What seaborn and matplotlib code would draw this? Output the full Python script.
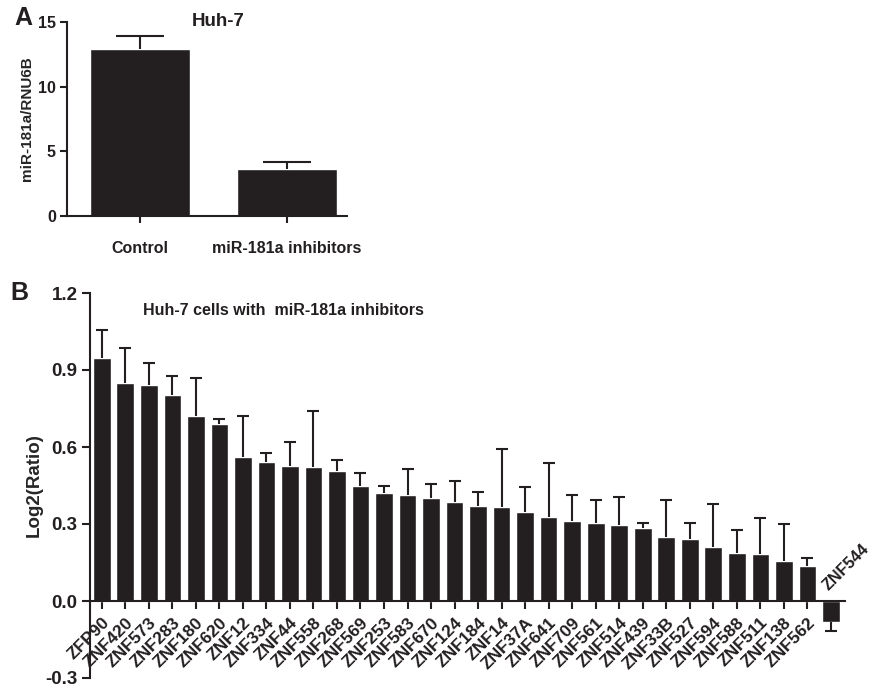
import numpy as np
import pandas as pd
import seaborn as sns
import matplotlib.pyplot as plt

# Panel A data
groups = ["Control", "miR-181a inhibitors"]
means_a = [12.9, 3.6]
errs_a = [1.05, 0.6]

# Panel B data
genes = ["ZFP90", "ZNF420", "ZNF573", "ZNF283", "ZNF180", "ZNF620", "ZNF12", "ZNF334",
         "ZNF44", "ZNF558", "ZNF268", "ZNF569", "ZNF253", "ZNF583", "ZNF670", "ZNF124",
         "ZNF184", "ZNF14", "ZNF37A", "ZNF641", "ZNF709", "ZNF561", "ZNF514", "ZNF439",
         "ZNF33B", "ZNF527", "ZNF594", "ZNF588", "ZNF511", "ZNF138", "ZNF562", "ZNF544"]
log2_ratio = [0.946, 0.850, 0.841, 0.803, 0.719, 0.688, 0.560, 0.541,
              0.525, 0.523, 0.505, 0.448, 0.421, 0.412, 0.403, 0.387,
              0.372, 0.368, 0.346, 0.328, 0.310, 0.302, 0.297, 0.284,
              0.250, 0.243, 0.210, 0.187, 0.182, 0.154, 0.138, -0.081]
sem = [0.108, 0.137, 0.087, 0.074, 0.149, 0.022, 0.161, 0.037,
       0.093, 0.219, 0.046, 0.051, 0.029, 0.103, 0.052, 0.081,
       0.054, 0.224, 0.098, 0.211, 0.104, 0.093, 0.107, 0.018,
       0.142, 0.060, 0.168, 0.089, 0.141, 0.147, 0.031, 0.035]

dark = "#231f20"
sns.set_style("ticks")
plt.rcParams['font.family'] = ['Liberation Sans', 'DejaVu Sans']
plt.rcParams['font.weight'] = 'bold'
plt.rcParams['axes.linewidth'] = 1.5
plt.rcParams['axes.edgecolor'] = dark
plt.rcParams['xtick.color'] = dark
plt.rcParams['ytick.color'] = dark
plt.rcParams['text.color'] = dark


def one_sided_errorbar(ax, x, y, err, capsize):
    # GraphPad style: only the outward half of each error bar
    x = np.asarray(x)
    y = np.asarray(y)
    err = np.asarray(err)
    pos = y >= 0
    for mask, up in ((pos, True), (~pos, False)):
        if not mask.any():
            continue
        z = np.zeros(mask.sum())
        yerr = [z, err[mask]] if up else [err[mask], z]
        eb = ax.errorbar(x[mask], y[mask], yerr=yerr, fmt='none', ecolor=dark,
                         elinewidth=1.5, capsize=capsize, capthick=1.5)
        caps = eb.lines[1]
        caps[0 if up else 1].remove()


fig = plt.figure(figsize=(8.73, 6.89), dpi=100)

# ---- panel A
axA = fig.add_axes([67/873, 1-216/689, 280/873, 194/689])
dfa = pd.DataFrame({"group": groups, "value": means_a})
sns.barplot(data=dfa, x="group", y="value", color=dark, saturation=1, width=0.68,
            errorbar=None, ax=axA)
one_sided_errorbar(axA, range(2), means_a, errs_a, 17)
axA.set_xlim(-0.5, 1.41)
axA.set_ylim(0, 15)
axA.set_yticks([0, 5, 10, 15])
axA.set_xlabel("")
axA.set_ylabel("miR-181a/RNU6B", fontsize=11, fontweight='bold', labelpad=3)
axA.tick_params(axis='x', length=5, width=1.5, pad=13, labelsize=11.5)
axA.tick_params(axis='y', length=5, width=1.5, pad=3, labelsize=11.5)
sns.despine(ax=axA)
axA.text(0.54, 1.0, "Huh-7", transform=axA.transAxes, fontsize=13.5,
         fontweight='bold', ha='center', va='center')
fig.text(14/873, 1-18/689, "A", fontsize=18, fontweight='bold', va='center')

# ---- panel B
axB = fig.add_axes([90/873, 1-678/689, 755/873, 385/689])
dfb = pd.DataFrame({"gene": genes, "value": log2_ratio})
sns.barplot(data=dfb, x="gene", y="value", color=dark, saturation=1, width=0.75,
            errorbar=None, ax=axB)
one_sided_errorbar(axB, range(len(genes)), log2_ratio, sem, 4)
sns.despine(ax=axB)
axB.spines['bottom'].set_position(('data', 0))
axB.set_xlim(-0.5, 31.6)
axB.set_ylim(-0.3, 1.2)
yt = [-0.3, 0.0, 0.3, 0.6, 0.9, 1.2]
axB.set_yticks(yt)
axB.set_yticklabels([f"{t:.1f}" for t in yt])
axB.set_xticks(range(len(genes)))
axB.set_xticklabels(genes[:-1] + [""], rotation=45, ha='right', rotation_mode='anchor')
axB.set_xlabel("")
axB.set_ylabel("Log2(Ratio)", fontsize=13.5, fontweight='bold', labelpad=2)
axB.tick_params(axis='x', length=6, width=1.5, pad=4, labelsize=12.5)
axB.tick_params(axis='y', length=6, width=1.5, pad=3, labelsize=13.5)
axB.text(31.0, 0.03, genes[-1], rotation=45, rotation_mode='anchor', ha='left',
         va='bottom', fontsize=11.5, fontweight='bold')
axB.text(0.07, 0.955, "Huh-7 cells with  miR-181a inhibitors", transform=axB.transAxes,
         fontsize=11.5, fontweight='bold', ha='left', va='center')
fig.text(10/873, 1-293/689, "B", fontsize=18, fontweight='bold', va='center')

fig.savefig("out.png", dpi=100)
